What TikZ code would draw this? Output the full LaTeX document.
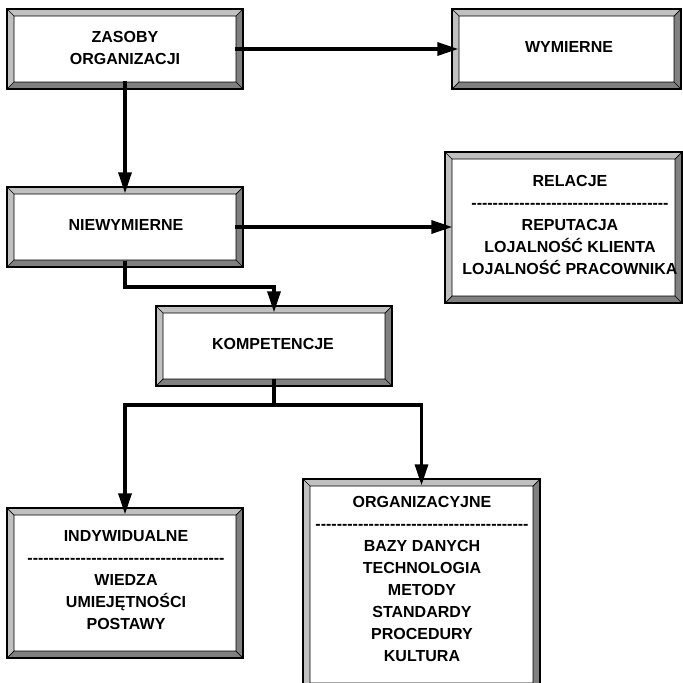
\documentclass[tikz,border=0pt]{standalone}
\usepackage{fontspec}
\setmainfont{Liberation Sans}
\usetikzlibrary{calc,arrows.meta}
\definecolor{bevlight}{HTML}{C0C0C0}
\definecolor{bevdark}{HTML}{808080}
\newcommand\dashline[1]{\foreach \i in {1,...,#1}{-\kern0pt}}
\tikzset{
 bevbox/.style={draw=black, line width=1.3pt, fill=white, inner sep=0pt, rectangle,
  path picture={
   \fill[bevlight] let \p1=(path picture bounding box.north west), \p2=(path picture bounding box.south east) in
     (\x1,\y1) -- (\x2,\y1) -- (\x2-7pt,\y1-7pt) -- (\x1+7pt,\y1-7pt) -- (\x1+7pt,\y2+7pt) -- (\x1,\y2) -- cycle;
   \fill[bevdark] let \p1=(path picture bounding box.north west), \p2=(path picture bounding box.south east) in
     (\x2,\y2) -- (\x2,\y1) -- (\x2-7pt,\y1-7pt) -- (\x2-7pt,\y2+7pt) -- (\x1+7pt,\y2+7pt) -- (\x1,\y2) -- cycle;
   \draw[line width=0.7pt] let \p1=(path picture bounding box.north west), \p2=(path picture bounding box.south east) in
     (\x1+7pt,\y1-7pt) rectangle (\x2-7pt,\y2+7pt)
     (\x1,\y1) -- (\x1+7pt,\y1-7pt)
     (\x2,\y1) -- (\x2-7pt,\y1-7pt)
     (\x1,\y2) -- (\x1+7pt,\y2+7pt)
     (\x2,\y2) -- (\x2-7pt,\y2+7pt);
  }},
 lbl/.style={font=\fontsize{16}{22}\selectfont\bfseries, align=center, inner sep=0pt, anchor=north},
 conn/.style={line width=3.2pt, line join=miter},
 arr/.style={conn, -{Triangle[length=21pt,width=13pt]}},
}
\begin{document}
\begin{tikzpicture}[x=1pt,y=-1pt]
\useasboundingbox (0,0) rectangle (683,683);
\clip (0,0) rectangle (683,683);
\fill[white] (0,0) rectangle (683,683);

\node[bevbox, minimum width=236pt, minimum height=80pt] (zas) at (125,49) {};
\node[bevbox, minimum width=229pt, minimum height=80pt] (wym) at (566.5,49) {};
\node[bevbox, minimum width=236pt, minimum height=80pt] (niew) at (125,227) {};
\node[bevbox, minimum width=237pt, minimum height=151pt] (rel) at (563.5,227.5) {};
\node[bevbox, minimum width=236pt, minimum height=80pt] (komp) at (274,346) {};
\node[bevbox, minimum width=236pt, minimum height=150pt] (indy) at (125,583) {};
\node[bevbox, minimum width=237pt, minimum height=211pt] (org) at (421.5,584.5) {};

\node[lbl] (t1) at (125,31.5) {ZASOBY\\ORGANIZACJI};
\node[lbl] (t2) at (569,41.5) {WYMIERNE};
\node[lbl] (t3) at (126,219.5) {NIEWYMIERNE};
\node[lbl] (t4) at (570,175.5) {RELACJE\\\dashline{37}\\REPUTACJA\\LOJALNOŚĆ KLIENTA\\LOJALNOŚĆ PRACOWNIKA};
\node[lbl] (t5) at (273,338.5) {KOMPETENCJE};
\node[lbl] (t6) at (126,530.5) {INDYWIDUALNE\\\dashline{37}\\WIEDZA\\UMIEJĘTNOŚCI\\POSTAWY};
\node[lbl] (t7) at (422,496.5) {ORGANIZACYJNE\\\dashline{40}\\BAZY DANYCH\\TECHNOLOGIA\\METODY\\STANDARDY\\PROCEDURY\\KULTURA};

\coordinate (j1) at (125,287);
\coordinate (j2) at (274,405);

\draw[arr] ([xshift=-9pt]zas.east) -- ([xshift=7pt]wym.west);
\draw[arr] ([yshift=9pt]zas.south) -- ([yshift=-7pt]niew.north);
\draw[arr] ([xshift=-9pt]niew.east) -- ($(niew.east -| rel.west)+(8,0)$);
\draw[arr] ([yshift=7pt]niew.south) -- (j1) -| ([yshift=-7pt]komp.north);
\draw[conn] ([yshift=8pt]komp.south) -- (j2);
\draw[arr] (j2) -| ([yshift=-7pt]indy.north);
\draw[arr] (j2) -| ([yshift=-7pt]org.north);
\end{tikzpicture}
\end{document}
